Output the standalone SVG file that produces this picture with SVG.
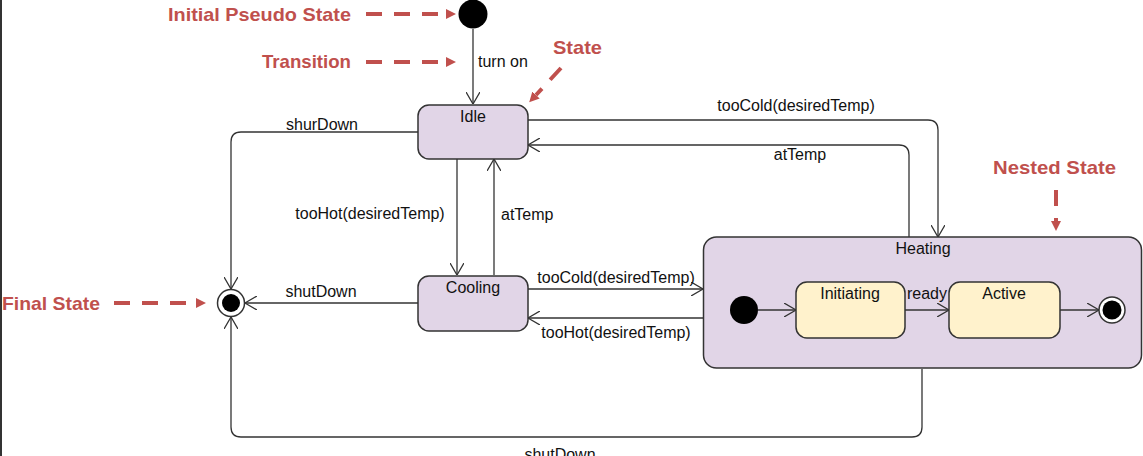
<svg xmlns="http://www.w3.org/2000/svg" width="1143" height="456" viewBox="0 0 1143 456">
<style>
.st{fill:#e1d5e7;stroke:#333;stroke-width:1.5}
.sub{fill:#fff2cc;stroke:#333;stroke-width:1.5}
.t{font-family:"Liberation Sans",Arial,sans-serif;font-size:16px;fill:#111}
.c{text-anchor:middle}
.e{fill:none;stroke:#333;stroke-width:1.3;marker-end:url(#arr)}
.ann{font-family:"Liberation Sans",Arial,sans-serif;font-weight:bold;font-size:19px;fill:#c0504d}
.da{fill:none;stroke:#c0504d;stroke-width:4;stroke-dasharray:16 12;marker-end:url(#red)}
</style>
<defs>
<marker id="arr" viewBox="0 0 12 14" refX="12" refY="7" markerWidth="12" markerHeight="14" markerUnits="userSpaceOnUse" orient="auto">
<path d="M0,0 L12,7 L0,14" fill="none" stroke="#333" stroke-width="1.3"/>
</marker>
<marker id="red" viewBox="0 0 10 10" refX="0" refY="5" markerWidth="10" markerHeight="10" markerUnits="userSpaceOnUse" orient="auto">
<path d="M0,0 L10,5 L0,10 Z" fill="#c0504d"/>
</marker>
</defs>
<rect x="0" y="0" width="2" height="456" fill="#333"/>

<g id="initial"><circle cx="473" cy="14" r="14.5" fill="#000"/></g>
<g id="idle"><rect class="st" x="418" y="105" width="110" height="54" rx="11"/><text class="t c" x="473" y="122">Idle</text></g>
<g id="cooling"><rect class="st" x="418" y="276" width="110" height="55" rx="11"/><text class="t c" x="473" y="293">Cooling</text></g>
<g id="final"><circle cx="231" cy="303" r="13.5" fill="#fff" stroke="#333" stroke-width="1.5"/><circle cx="231" cy="303" r="9" fill="#000"/></g>
<g id="heating">
<rect class="st" x="703.5" y="237" width="438" height="131" rx="13"/>
<text class="t c" x="923" y="254">Heating</text>
</g>
<g id="heating-initial"><circle cx="744" cy="310" r="14" fill="#000"/></g>
<g id="initiating"><rect class="sub" x="796" y="282" width="109" height="56" rx="11"/><text class="t c" x="850" y="299">Initiating</text></g>
<g id="active"><rect class="sub" x="949" y="282" width="111" height="56" rx="11"/><text class="t c" x="1004" y="299">Active</text></g>
<g id="heating-final"><circle cx="1112" cy="310" r="13" fill="#fff" stroke="#333" stroke-width="1.5"/><circle cx="1112" cy="310" r="9.5" fill="#000"/></g>

<g id="connectors">
<path class="e" d="M473,29 V104"/>
<path class="e" d="M418,132 H241 Q231,132 231,142 V289"/>
<path class="e" d="M528,120 H928 Q938,120 938,130 V237"/>
<path class="e" d="M909,237 V155 Q909,145 899,145 H528"/>
<path class="e" d="M457,159 V275"/>
<path class="e" d="M494,275 V159"/>
<path class="e" d="M418,303 H245"/>
<path class="e" d="M528,289 H703"/>
<path class="e" d="M703,318 H528"/>
<path class="e" d="M922,369 V427 Q922,437 912,437 H241 Q231,437 231,427 V317"/>
<path class="e" d="M758,310 H796"/>
<path class="e" d="M905,310 H949"/>
<path class="e" d="M1060,310 H1099"/>
<text class="t" x="478" y="67">turn on</text>
<text class="t c" x="322" y="130">shurDown</text>
<text class="t c" x="796" y="111">tooCold(desiredTemp)</text>
<text class="t c" x="800" y="160">atTemp</text>
<text class="t c" x="370" y="219">tooHot(desiredTemp)</text>
<text class="t" x="501" y="220">atTemp</text>
<text class="t c" x="321" y="297">shutDown</text>
<text class="t c" x="616" y="283">tooCold(desiredTemp)</text>
<text class="t c" x="616" y="338">tooHot(desiredTemp)</text>
<text class="t c" x="560" y="460">shutDown</text>
<text class="t c" x="927" y="299">ready</text>
</g>

<g id="annotations">
<text class="ann" x="168" y="21" textLength="183" lengthAdjust="spacingAndGlyphs">Initial Pseudo State</text>
<path class="da" d="M366,14 H446"/>
<text class="ann" x="262" y="68" textLength="89" lengthAdjust="spacingAndGlyphs">Transition</text>
<path class="da" d="M366,62 H446"/>
<text class="ann" x="553" y="54" textLength="49" lengthAdjust="spacingAndGlyphs">State</text>
<path class="da" d="M561,68 L536,95"/>
<text class="ann" x="993" y="174" textLength="123" lengthAdjust="spacingAndGlyphs">Nested State</text>
<path class="da" d="M1056,190 V221"/>
<text class="ann" x="2" y="310" textLength="98" lengthAdjust="spacingAndGlyphs">Final State</text>
<path class="da" d="M114,303 H196"/>
</g>
</svg>
